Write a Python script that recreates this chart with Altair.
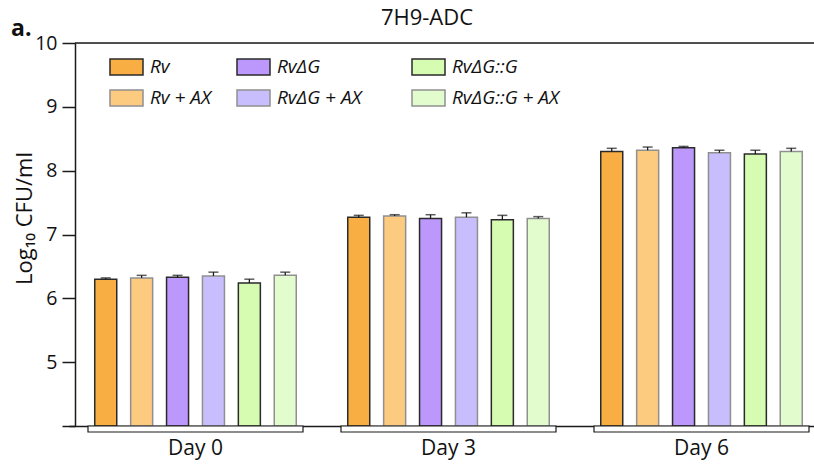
import altair as alt
import pandas as pd

# ---- data ----
days = ["Day 0", "Day 3", "Day 6"]
strains = ["Rv", "Rv + AX", "RvΔG", "RvΔG + AX", "RvΔG::G", "RvΔG::G + AX"]
means_day0 = [6.30, 6.32, 6.33, 6.35, 6.24, 6.36]
means_day3 = [7.27, 7.29, 7.25, 7.27, 7.23, 7.25]
means_day6 = [8.30, 8.32, 8.36, 8.28, 8.26, 8.30]
err_day0 = [0.02, 0.04, 0.03, 0.06, 0.06, 0.05]
err_day3 = [0.03, 0.02, 0.06, 0.07, 0.07, 0.03]
err_day6 = [0.05, 0.05, 0.02, 0.04, 0.06, 0.05]
y_ticks = [4, 5, 6, 7, 8, 9, 10]
chart_title = "7H9-ADC"
panel = "a."

fill_colors = ["#F9AE43", "#FDCB80", "#BD98FC", "#C9BEFD", "#D6FCB2", "#E3FCCD"]
stroke_colors = ["#2a2a2a", "#909090", "#2a2a2a", "#909090", "#2a2a2a", "#909090"]

FONT = "Open Sans"

rows = []
for d, ms, es in zip(days, [means_day0, means_day3, means_day6], [err_day0, err_day3, err_day6]):
    for s, m, e in zip(strains, ms, es):
        rows.append({"day": d, "strain": s, "mean": m, "upper": m + e})
df = pd.DataFrame(rows)
days_df = pd.DataFrame({"day": days})

# legend layout (pixel placement relative to plot area)
legend_col_x = [35, 162, 337]
legend_row_y = [24, 55]
leg_rows = []
for i, s in enumerate(strains):
    c, r = i // 2, i % 2
    leg_rows.append({"strain": s, "lx": legend_col_x[c], "lx2": legend_col_x[c] + 33,
                     "tx": legend_col_x[c] + 40, "ly": legend_row_y[r] - 8,
                     "ly2": legend_row_y[r] + 8, "ty": legend_row_y[r]})
leg_df = pd.DataFrame(leg_rows)

W, H = 739, 383

x_scale = alt.Scale(domain=days, range=[-6, 753], paddingInner=0, paddingOuter=0)
xo_scale = alt.Scale(domain=strains, paddingInner=0.387, paddingOuter=0.717)
y_scale = alt.Scale(domain=[4, 10], nice=False, zero=False)
fill_scale = alt.Scale(domain=strains, range=fill_colors)
stroke_scale = alt.Scale(domain=strains, range=stroke_colors)

x_enc = alt.X("day:N", scale=x_scale, sort=days, title=None,
              axis=alt.Axis(labelAngle=0, ticks=False, domainColor="#1a1a1a", domainWidth=1.5,
                            labelFont=FONT, labelFontSize=21, labelColor="#111",
                            labelPadding=11))
xo_enc = alt.XOffset("strain:N", scale=xo_scale, sort=strains)

bars = alt.Chart(df).mark_bar(strokeWidth=1.5).encode(
    x=x_enc,
    xOffset=xo_enc,
    y=alt.Y("mean:Q", scale=y_scale,
            axis=alt.Axis(values=y_ticks, format="d",
                          labelExpr="datum.value == 4 ? '' : datum.label",
                          tickSize=13, tickWidth=1.5, tickColor="#1a1a1a",
                          domainColor="#1a1a1a", domainWidth=1.5, grid=False,
                          labelFont=FONT, labelFontSize=19.5, labelColor="#111", labelPadding=5,
                          title="Log₁₀ CFU/ml", titleFont=FONT, titleFontSize=22,
                          titleFontWeight="normal", titleColor="#111",
                          titleX=-44, titleY=175, titleAngle=-90,
                          titleBaseline="alphabetic", titleAlign="center")),
    y2=alt.datum(4),
    fill=alt.Fill("strain:N", scale=fill_scale, legend=None),
    stroke=alt.Stroke("strain:N", scale=stroke_scale, legend=None),
)

err_rule = alt.Chart(df).mark_rule(color="#1a1a1a", strokeWidth=1.3).encode(
    x=alt.X("day:N", sort=days),
    xOffset=alt.XOffset("strain:N", sort=strains),
    y="mean:Q",
    y2="upper:Q",
)
err_cap = alt.Chart(df).mark_tick(color="#1a1a1a", size=10, thickness=1.5).encode(
    x=alt.X("day:N", sort=days),
    xOffset=alt.XOffset("strain:N", sort=strains),
    y="upper:Q",
)

bracket = alt.Chart(days_df).mark_bar(size=215, fill="white", stroke="#1a1a1a",
                                      strokeWidth=1.2).encode(
    x=alt.X("day:N", sort=days),
    y=alt.value(H),
    y2=alt.value(H + 6),
)

top_rule = alt.Chart(pd.DataFrame({"v": [10]})).mark_rule(color="#1a1a1a", strokeWidth=1.5).encode(
    y=alt.Y("v:Q")
)

leg_rect = alt.Chart(leg_df).mark_rect(strokeWidth=1.5).encode(
    x=alt.X("lx:Q", scale=None),
    x2="lx2:Q",
    y=alt.Y("ly:Q", scale=None),
    y2="ly2:Q",
    fill=alt.Fill("strain:N", scale=fill_scale, legend=None),
    stroke=alt.Stroke("strain:N", scale=stroke_scale, legend=None),
)
leg_text = alt.Chart(leg_df).mark_text(align="left", baseline="middle", font=FONT,
                                       fontSize=19, fontStyle="italic", color="#111").encode(
    x=alt.X("tx:Q", scale=None),
    y=alt.Y("ty:Q", scale=None),
    text="strain:N",
)

panel_label = alt.Chart(pd.DataFrame({"t": [panel]})).mark_text(
    align="left", baseline="alphabetic", font=FONT, fontSize=23, fontWeight="bold", color="#111"
).encode(x=alt.value(-64), y=alt.value(-7), text="t:N")

title_text = alt.Chart(pd.DataFrame({"t": [chart_title]})).mark_text(
    align="center", baseline="alphabetic", font=FONT, fontSize=22, color="#111"
).encode(x=alt.value(352), y=alt.value(-18), text="t:N")

chart = alt.layer(bars, err_rule, err_cap, bracket, top_rule, leg_rect, leg_text,
                  panel_label, title_text).properties(
    width=W, height=H,
    autosize=alt.AutoSizeParams(type="none"),
    padding={"left": 75, "top": 43, "right": 0, "bottom": 44},
).configure_view(stroke=None).configure(background="white")

chart.save("out.html", embed_options={"renderer": "svg", "actions": False})
